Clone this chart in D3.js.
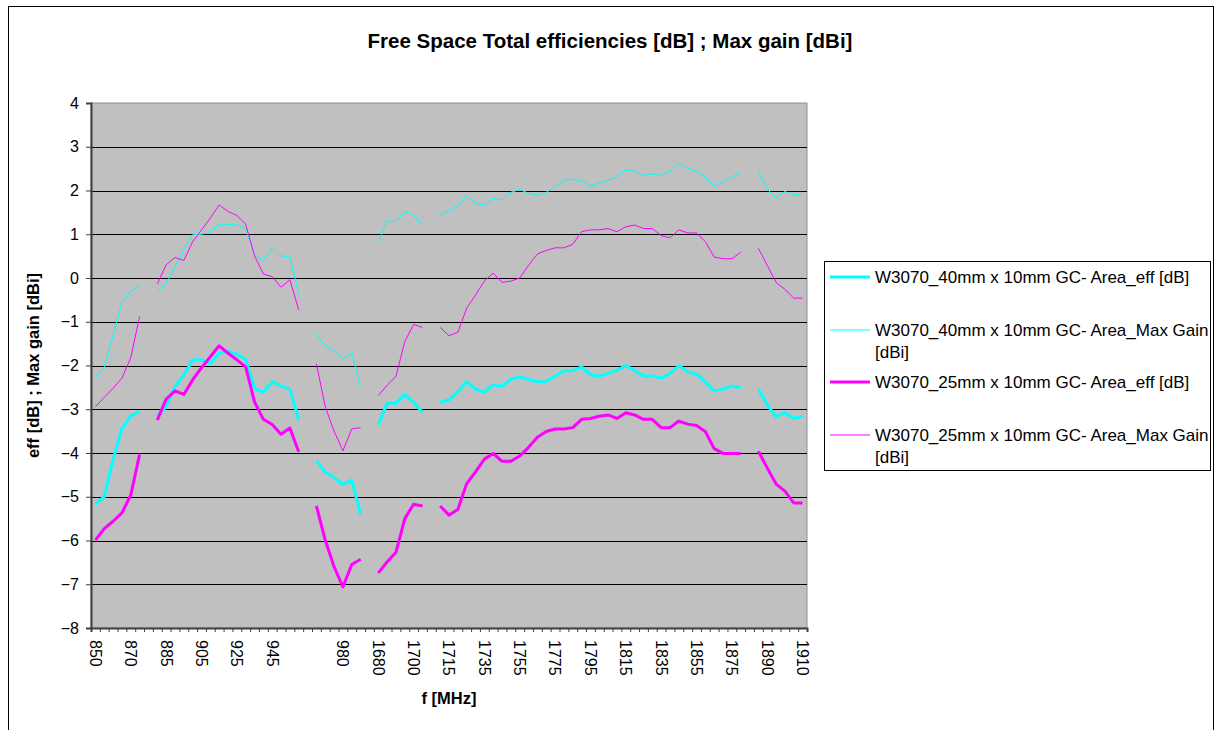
<!DOCTYPE html>
<html>
<head>
<meta charset="utf-8">
<title>Free Space Total efficiencies</title>
<script src="https://d3js.org/d3.v7.min.js"></script>
<style>
  body {margin: 0; background: #fff;}
  text {font-family: "Liberation Sans", Arial, sans-serif; fill: #000;}
  .title {font-size: 20.5px; font-weight: bold;}
  .axisTitle {font-size: 16.5px; font-weight: bold;}
  .tick text {font-size: 16px;}
  .legend text {font-size: 17px;}
</style>
</head>
<body>
<div id="chart"></div>
<script>
// frequency categories (blank = gap row in the sheet)
var cats = ["850","855","860","865","870","875","",
  "880","885","890","895","900","905","910","915","920","925","930","935","940","945","950","955","960","",
  "965","970","975","980","985","990","",
  "1680","1685","1690","1695","1700","1705","",
  "1710","1715","1720","1725","1730","1735","1740","1745","1750","1755","1760","1765","1770","1775","1780",
  "1785","1790","1795","1800","1805","1810","1815","1820","1825","1830","1835","1840","1845","1850","1855",
  "1860","1865","1870","1875","1880","",
  "1885","1890","1895","1900","1905","1910"];

var eff40 = [-5.17,-5.0,-4.15,-3.44,-3.15,-3.05,null,
  -3.15,-2.94,-2.48,-2.22,-1.87,-1.87,-1.96,-1.72,-1.67,-1.74,-1.86,-2.52,-2.61,-2.37,-2.47,-2.54,-3.25,null,
  -4.18,-4.44,-4.56,-4.72,-4.62,-5.40,null,
  -3.36,-2.86,-2.86,-2.66,-2.85,-3.07,null,
  -2.84,-2.79,-2.60,-2.37,-2.54,-2.61,-2.44,-2.48,-2.31,-2.26,-2.32,-2.37,-2.37,-2.24,-2.12,
  -2.12,-2.03,-2.21,-2.24,-2.18,-2.11,-2.0,-2.11,-2.24,-2.24,-2.29,-2.18,-2.0,-2.14,-2.2,
  -2.37,-2.58,-2.54,-2.47,-2.51,null,
  -2.54,-2.90,-3.17,-3.08,-3.21,-3.16];

var gain40 = [-2.29,-2.05,-1.30,-0.55,-0.31,-0.17,null,
  -0.29,-0.13,0.26,0.64,0.99,1.0,1.04,1.23,1.23,1.21,1.14,0.54,0.40,0.69,0.51,0.48,-0.36,null,
  -1.28,-1.55,-1.67,-1.84,-1.72,-2.47,null,
  0.83,1.31,1.28,1.52,1.42,1.23,null,
  1.44,1.54,1.65,1.88,1.71,1.67,1.82,1.79,1.96,2.02,1.94,1.89,1.96,2.09,2.23,
  2.26,2.22,2.11,2.17,2.23,2.31,2.47,2.44,2.34,2.38,2.34,2.44,2.63,2.51,2.44,
  2.31,2.09,2.2,2.31,2.4,null,
  2.44,2.03,1.83,1.98,1.89,1.94];

var eff25 = [-5.99,-5.73,-5.56,-5.37,-4.96,-4.03,null,
  -3.25,-2.77,-2.58,-2.66,-2.33,-2.05,-1.80,-1.55,-1.72,-1.87,-2.03,-2.83,-3.23,-3.35,-3.57,-3.43,-3.97,null,
  -5.21,-5.99,-6.6,-7.06,-6.55,-6.43,null,
  -6.74,-6.49,-6.27,-5.50,-5.17,-5.21,null,
  -5.21,-5.42,-5.29,-4.70,-4.43,-4.14,-4.01,-4.19,-4.19,-4.07,-3.87,-3.64,-3.51,-3.45,-3.45,
  -3.42,-3.23,-3.21,-3.16,-3.13,-3.21,-3.08,-3.13,-3.23,-3.23,-3.42,-3.42,-3.27,-3.34,-3.37,
  -3.51,-3.90,-4.01,-4.01,-4.01,null,
  -3.96,-4.34,-4.71,-4.87,-5.14,-5.14];

var gain25 = [-2.94,-2.73,-2.52,-2.29,-1.82,-0.88,null,
  -0.14,0.30,0.47,0.40,0.83,1.10,1.37,1.67,1.52,1.43,1.23,0.51,0.09,0.03,-0.21,-0.04,-0.73,null,
  -1.96,-2.94,-3.5,-3.95,-3.45,-3.42,null,
  -2.69,-2.45,-2.25,-1.45,-1.06,-1.13,null,
  -1.13,-1.32,-1.24,-0.69,-0.39,-0.07,0.11,-0.10,-0.07,0.0,0.29,0.55,0.63,0.69,0.69,
  0.77,1.06,1.10,1.10,1.13,1.06,1.17,1.21,1.13,1.13,0.97,0.92,1.10,1.03,1.03,
  0.83,0.48,0.44,0.44,0.59,null,
  0.68,0.29,-0.10,-0.26,-0.46,-0.46];

var seriesNames = ["W3070_40mm x 10mm GC- Area_eff [dB]",
  "W3070_40mm x 10mm GC- Area_Max Gain [dBi]",
  "W3070_25mm x 10mm GC- Area_eff [dB]",
  "W3070_25mm x 10mm GC- Area_Max Gain [dBi]"];
var yTicks = [-8,-7,-6,-5,-4,-3,-2,-1,0,1,2,3,4];

var series = [
  {name: seriesNames[0], values: eff40, color: "#00ffff", w: 3},
  {name: seriesNames[1], values: gain40, color: "#00ffff", w: 1},
  {name: seriesNames[2], values: eff25, color: "#ff00ff", w: 3},
  {name: seriesNames[3], values: gain25, color: "#ff00ff", w: 1}
];

var W = 1218, H = 730;
var plot = {left: 91, right: 807, top: 103, bottom: 628};

var svg = d3.select("#chart").append("svg")
    .attr("width", W).attr("height", H);

// chart frame
svg.append("rect")
    .attr("x", 8.5).attr("y", 6.5)
    .attr("width", 1205).attr("height", 740)
    .attr("fill", "#fff").attr("stroke", "#000");

var idx = d3.range(cats.length);
var x = d3.scaleBand().domain(idx).range([plot.left, plot.right]);
var xEdge = d3.scaleLinear().domain([0, cats.length]).range([plot.left, plot.right]);
var y = d3.scaleLinear().domain([-8, 4]).range([plot.bottom, plot.top]);

// plot background
svg.append("rect")
    .attr("x", plot.left).attr("y", plot.top)
    .attr("width", plot.right - plot.left).attr("height", plot.bottom - plot.top)
    .attr("fill", "#c0c0c0").attr("stroke", "#909090");

// grid
svg.append("g")
  .selectAll("line")
  .data(yTicks.filter(function(d) { return d > -8 && d < 4; }))
  .enter().append("line")
    .attr("x1", plot.left).attr("x2", plot.right)
    .attr("y1", function(d) { return Math.round(y(d)) + 0.5; })
    .attr("y2", function(d) { return Math.round(y(d)) + 0.5; })
    .attr("stroke", "#000");

// y axis
var yAxis = svg.append("g")
    .attr("transform", "translate(" + plot.left + ",0)")
    .call(d3.axisLeft(y).tickValues(yTicks).tickSize(5).tickPadding(7).tickFormat(d3.format("d")));
yAxis.select(".domain").attr("stroke", "#404040").attr("stroke-width", 2);
yAxis.selectAll(".tick line").attr("stroke", "#404040");
yAxis.selectAll(".tick text").attr("font-family", null).attr("font-size", null);

// x axis: tick marks at category edges
var xTickAxis = svg.append("g")
    .attr("transform", "translate(0," + plot.bottom + ")")
    .call(d3.axisBottom(xEdge).tickValues(d3.range(cats.length + 1)).tickSize(4).tickFormat(""));
xTickAxis.select(".domain").attr("stroke", "#404040").attr("stroke-width", 2);
xTickAxis.selectAll(".tick line").attr("stroke", "#404040");

// x axis: labels every 4th category
var xLabels = svg.append("g")
    .attr("transform", "translate(0," + plot.bottom + ")")
    .call(d3.axisBottom(x).tickValues(idx.filter(function(i) { return i % 4 === 0; }))
      .tickSize(0).tickFormat(function(i) { return cats[i]; }));
xLabels.select(".domain").remove();
xLabels.selectAll(".tick text")
    .attr("font-family", null).attr("font-size", null)
    .attr("transform", "rotate(90)")
    .attr("x", 12).attr("y", 0).attr("dy", "0.35em")
    .style("text-anchor", "start");

// lines
var line = d3.line()
    .defined(function(d) { return d != null; })
    .x(function(d, i) { return x(i) + x.bandwidth() / 2; })
    .y(function(d) { return y(d); });

series.forEach(function(s) {
  svg.append("path")
    .datum(s.values)
    .attr("fill", "none")
    .attr("stroke", s.color)
    .attr("stroke-width", s.w)
    .attr("stroke-linejoin", "round")
    .attr("d", line);
});

// titles
svg.append("text").attr("class", "title")
    .attr("x", 610).attr("y", 48).attr("text-anchor", "middle")
    .text("Free Space Total efficiencies [dB] ; Max gain [dBi]");
svg.append("text").attr("class", "axisTitle")
    .attr("x", (plot.left + plot.right) / 2).attr("y", 704).attr("text-anchor", "middle")
    .text("f [MHz]");
svg.append("text").attr("class", "axisTitle")
    .attr("transform", "translate(39," + (plot.top + plot.bottom) / 2 + ") rotate(-90)")
    .attr("text-anchor", "middle")
    .text("eff [dB] ; Max gain [dBi]");

// legend
var legend = svg.append("g").attr("class", "legend");
legend.append("rect")
    .attr("x", 824.5).attr("y", 261.5).attr("width", 386).attr("height", 209)
    .attr("fill", "#fff").attr("stroke", "#000");
var rowY = [277, 330, 382, 435];
series.forEach(function(s, i) {
  legend.append("line")
    .attr("x1", 830).attr("x2", 870)
    .attr("y1", rowY[i]).attr("y2", rowY[i])
    .attr("stroke", s.color).attr("stroke-width", s.w);
  var words = s.name.split(" [");
  var t = legend.append("text").attr("x", 875).attr("y", rowY[i]).attr("dy", "0.35em");
  if (s.w === 1) {
    t.text(words[0]);
    legend.append("text").attr("x", 875).attr("y", rowY[i] + 22).attr("dy", "0.35em").text("[" + words[1]);
  } else {
    t.text(s.name);
  }
});
</script>
</body>
</html>
